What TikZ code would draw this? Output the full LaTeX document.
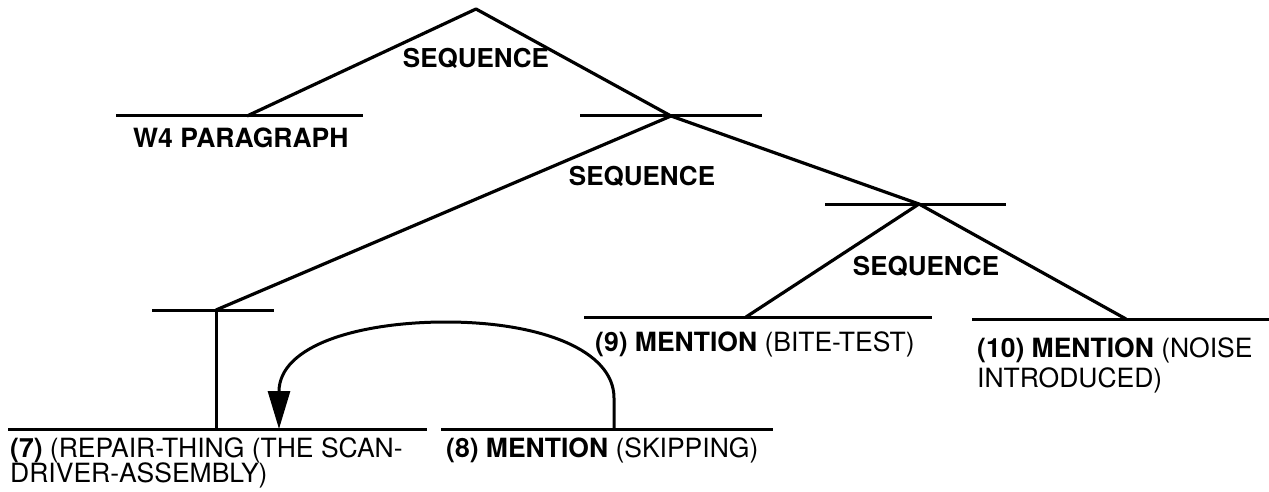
\documentclass[tikz,border=0pt]{standalone}
\usepackage{fontspec}
\setmainfont{TeX Gyre Heros}
\usetikzlibrary{arrows.meta}
\begin{document}
\begin{tikzpicture}[x=1pt,y=-1pt,
  bar/.style={line width=3pt},
  branch/.style={line width=3.2pt, line join=round},
  lbl/.style={anchor=base west, inner sep=0pt, font=\fontsize{26.5}{26}\selectfont},
  seq/.style={anchor=base, inner sep=0pt, font=\fontsize{26}{26}\selectfont\bfseries},
  link/.style={line width=3pt, -{Triangle[length=38pt,width=22pt]}}]
\useasboundingbox (0,0) rectangle (1269,492);

% junction points of the tree
\coordinate (root) at (476,9);
\coordinate (w4)   at (247,116);
\coordinate (s1)   at (671,116);
\coordinate (s2)   at (216,310);
\coordinate (s3)   at (919,204);
\coordinate (m9)   at (746,317);
\coordinate (m10)  at (1126,319);
\coordinate (m7)   at (216,429);
\coordinate (m7t)  at (279,429);
\coordinate (m8)   at (614,429);

% horizontal bars under each constituent
\draw[bar] (116,116) -- (363,116);
\draw[bar] (580,116) -- (762,116);
\draw[bar] (152,310) -- (274,310);
\draw[bar] (825,204) -- (1006,204);
\draw[bar] (584,317) -- (932,317);
\draw[bar] (972,319) -- (1269,319);
\draw[bar] (8,429)   -- (427,429);
\draw[bar] (441,429) -- (773,429);

% tree branches
\draw[branch] (w4) -- (root) -- (s1);
\draw[branch] (s2) -- (s1) -- (s3);
\draw[branch] (m9) -- (s3) -- (m10);
\draw[bar] (s2) -- (m7);

% relation labels
\node[seq] (seq1) at (476,68)  {SEQUENCE};
\node[seq] (seq2) at (642,185) {SEQUENCE};
\node[seq] (seq3) at (926,275) {SEQUENCE};

% leaf texts
\node[lbl] (t4)  at (133,148) {\bfseries W4 PARAGRAPH};
\node[lbl] (t9)  at (595,351) {\textbf{(9) MENTION} (BITE-TEST)};
\node[lbl] (t10) at (977,357) {\textbf{(10) MENTION} (NOISE};
\node[lbl] (t10b) at (977,387) {INTRODUCED)};
\node[lbl] (t7)  at (10,457)  {\textbf{(7)} (REPAIR-THING (THE SCAN-};
\node[lbl] (t7b) at (10,482)  {DRIVER-ASSEMBLY)};
\node[lbl] (t8)  at (446,457) {\textbf{(8) MENTION} (SKIPPING)};

% back reference from (8) to (7)
\draw[link] (m8) -- (614,398) .. controls (614,350) and (540,322) .. (446,322)
  .. controls (360,322) and (279,345) .. (m7t);
\end{tikzpicture}
\end{document}
